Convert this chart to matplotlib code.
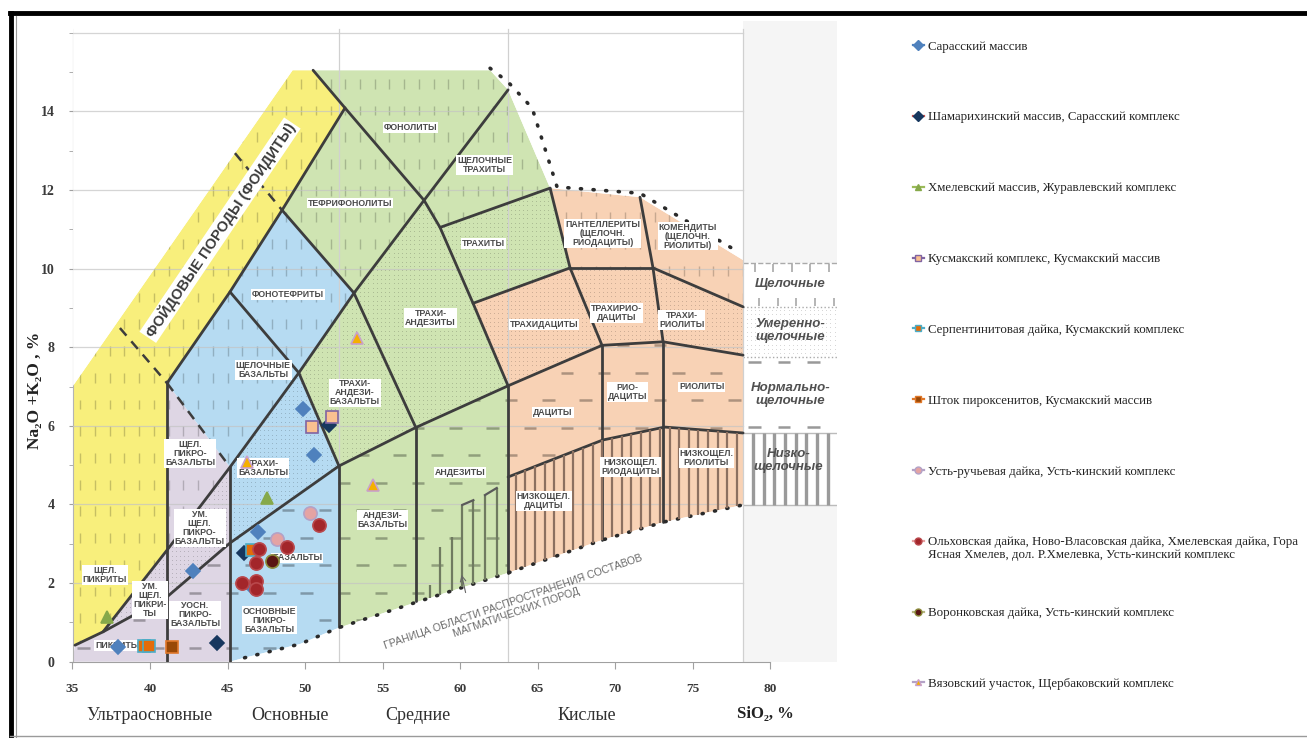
import numpy as np
import matplotlib
matplotlib.use('Agg')
import matplotlib.pyplot as plt
from matplotlib.patches import Polygon, Rectangle
from matplotlib.collections import LineCollection
from matplotlib.lines import Line2D

# ---- TAS diagram geometry (SiO2 %, Na2O+K2O %) ----
yellow_x = [35, 35, 49.2, 50.52, 52.58, 48.52, 45.16, 41.10, 41.10, 36.97, 35.16]
yellow_y = [0.42, 7.0, 15.05, 15.05, 14.09, 11.49, 9.41, 7.09, 2.84, 0.76, 0.42]
lilac_x = [35, 35.16, 36.97, 41.10, 41.10, 45.16, 45.16]
lilac_y = [0, 0.42, 0.76, 2.84, 7.09, 4.95, 0]
blue_x = [41.10, 45.16, 48.52, 53.16, 49.6, 52.19, 52.19, 49.68, 46.1, 45.16, 45.16]
blue_y = [7.09, 9.41, 11.49, 9.38, 7.35, 4.98, 0.86, 0.45, 0.1, 0.0, 4.95]
green_x = [50.52, 61.94, 63.10, 65.81, 67.10, 60.84, 63.10, 63.10, 57.23, 52.19, 52.19, 49.6, 53.16, 48.52, 52.58]
green_y = [15.05, 15.05, 14.55, 12.05, 10.02, 9.12, 7.02, 2.26, 1.52, 0.86, 4.98, 7.35, 9.38, 11.49, 14.09]
peach_x = [65.81, 71.61, 78.26, 78.26, 73.2, 69.2, 63.1, 63.10, 60.84, 67.10]
peach_y = [12.05, 11.82, 10.22, 3.99, 3.56, 3.1, 2.26, 7.02, 9.12, 10.02]

steep_x = [35.16, 36.97, 41.10, 45.16, 49.6, 53.16, 57.68, 63.10]
steep_y = [0.42, 0.76, 2.84, 4.95, 7.35, 9.38, 11.74, 14.55]
shallow_x = [36.97, 41.10, 45.16, 52.19, 57.10, 63.10, 69.16, 73.10, 78.26]
shallow_y = [0.76, 1.65, 3.02, 4.98, 5.95, 7.02, 8.05, 8.14, 7.80]
lowalk_x = [63.10, 69.2, 73.2, 78.26]
lowalk_y = [4.70, 5.64, 5.97, 5.82]
bottom_x = [46.1, 49.68, 52.13, 57.23, 63.1, 69.2, 73.2, 78.26]
bottom_y = [0.1, 0.45, 0.86, 1.52, 2.26, 3.1, 3.56, 3.99]
topdots_x = [61.94, 63.10, 64.65, 66.26, 71.61, 78.06]
topdots_y = [15.1, 14.75, 14.09, 12.08, 11.92, 10.4]

# other solid boundaries: (x list, y list)
edges = [
    ([52.58, 48.52, 45.16, 41.10], [14.09, 11.49, 9.41, 7.09]),
    ([50.52, 52.58, 57.68, 58.71, 60.84, 63.10], [15.05, 14.09, 11.74, 11.05, 9.12, 7.02]),
    ([48.52, 53.16, 57.16], [11.49, 9.38, 5.95]),
    ([45.16, 49.6], [9.41, 7.35]),
    ([49.6, 52.19], [7.35, 4.98]),
    ([58.71, 65.81], [11.05, 12.05]),
    ([65.81, 67.10], [12.05, 10.02]),
    ([60.84, 67.10], [9.12, 10.02]),
    ([67.10, 72.45], [10.02, 10.02]),
    ([71.61, 72.45], [11.82, 10.02]),
    ([72.45, 78.26], [10.02, 9.03]),
    ([67.10, 69.16], [10.02, 8.05]),
    ([72.45, 73.10], [10.02, 8.14]),
]
vert_x = [41.10, 45.16, 52.19, 57.16, 63.10, 69.16, 73.10]
vert_lo = [0, 0, 0.88, 1.54, 2.26, 3.1, 3.56]
vert_hi = [7.09, 4.95, 4.98, 5.95, 7.02, 8.05, 8.14]
dashed = [([41.10, 45.16], [7.09, 4.95]), ([38.06, 41.10], [8.49, 7.09]), ([45.48, 48.52], [12.94, 11.49])]
stair_x = [58.06, 58.71, 59.46, 60.15, 60.86, 61.61, 62.37]
stair_top = [1.95, 2.93, 3.18, 3.99, 4.11, 4.24, 4.42]

region_labels = [
    ("ФОНОЛИТЫ", 56.8, 13.6), ("ЩЕЛОЧНЫЕ\nТРАХИТЫ", 61.6, 12.63), ("ТЕФРИФОНОЛИТЫ", 52.9, 11.67),
    ("ТРАХИТЫ", 61.5, 10.65), ("ПАНТЕЛЛЕРИТЫ\n(ЩЕЛОЧН.\nРИОДАЦИТЫ)", 69.2, 10.9),
    ("КОМЕНДИТЫ\n(ЩЕЛОЧН.\nРИОЛИТЫ)", 74.7, 10.83), ("ФОНОТЕФРИТЫ", 48.9, 9.35),
    ("ТРАХИ-\nАНДЕЗИТЫ", 58.1, 8.74), ("ТРАХИДАЦИТЫ", 65.4, 8.58), ("ТРАХИРИО-\nДАЦИТЫ", 70.1, 8.87),
    ("ТРАХИ-\nРИОЛИТЫ", 74.3, 8.7), ("ЩЕЛОЧНЫЕ\nБАЗАЛЬТЫ", 47.3, 7.42),
    ("ТРАХИ-\nАНДЕЗИ-\nБАЗАЛЬТЫ", 53.2, 6.84), ("ДАЦИТЫ", 66.0, 6.35), ("РИО-\nДАЦИТЫ", 70.8, 6.86),
    ("РИОЛИТЫ", 75.6, 6.99), ("ЩЕЛ.\nПИКРО-\nБАЗАЛЬТЫ", 42.6, 5.3), ("ТРАХИ-\nБАЗАЛЬТЫ", 47.3, 4.93),
    ("АНДЕЗИТЫ", 60.0, 4.82), ("НИЗКОЩЕЛ.\nРИОДАЦИТЫ", 71.0, 4.95), ("НИЗКОЩЕЛ.\nРИОЛИТЫ", 75.9, 5.18),
    ("АНДЕЗИ-\nБАЗАЛЬТЫ", 55.0, 3.6), ("НИЗКОЩЕЛ.\nДАЦИТЫ", 65.4, 4.08), ("БАЗАЛЬТЫ", 49.5, 2.64),
    ("УМ.\nЩЕЛ.\nПИКРО-\nБАЗАЛЬТЫ", 43.2, 3.4), ("ЩЕЛ.\nПИКРИТЫ", 37.1, 2.2),
    ("УМ.\nЩЕЛ.\nПИКРИ-\nТЫ", 40.0, 1.57), ("УОСН.\nПИКРО-\nБАЗАЛЬТЫ", 42.9, 1.19),
    ("ОСНОВНЫЕ\nПИКРО-\nБАЗАЛЬТЫ", 47.7, 1.06), ("ПИКРИТЫ", 37.9, 0.42),
]

# ---- sample points ----
s1_x = [49.89, 50.58, 46.99, 42.79, 37.96, 46.56]
s1_y = [6.42, 5.26, 3.31, 2.32, 0.37, 1.91]
s2_x = [44.30, 46.05, 51.57]
s2_y = [0.47, 2.77, 6.02]
s3_x = [47.53, 37.20]
s3_y = [4.16, 1.15]
s4_x = [50.43, 51.72]
s4_y = [5.98, 6.22]
s5_x = [39.62, 39.95, 46.56]
s5_y = [0.41, 0.41, 2.83]
s6_x = [41.40]
s6_y = [0.37]
s7_x = [50.32, 48.17]
s7_y = [3.78, 3.11]
s8_x = [50.93, 48.82, 47.05, 46.84, 45.92, 46.84, 46.84]
s8_y = [3.48, 2.91, 2.88, 2.52, 2.01, 2.06, 1.84]
s9_x = [47.89]
s9_y = [2.55]
s10_x = [46.24, 53.34, 54.41]
s10_y = [5.09, 8.23, 4.50]

names = [
    "Сарасский массив",
    "Шамарихинский массив, Сарасский комплекс",
    "Хмелевский массив, Журавлевский комплекс",
    "Кусмакский комплекс, Кусмакский массив",
    "Серпентинитовая дайка, Кусмакский комплекс",
    "Шток пироксенитов, Кусмакский массив",
    "Усть-ручьевая дайка, Усть-кинский комплекс",
    "Ольховская дайка, Ново-Власовская дайка, Хмелевская дайка, Гора",
    "Воронковская дайка, Усть-кинский комплекс",
    "Вязовский участок, Щербаковский комплекс",
]
name8_cont = "Ясная Хмелев, дол. Р.Хмелевка, Усть-кинский комплекс"
series = [
    (s1_x, s1_y, 'D', '#4f81bd', '#4f81bd', 7, '#4f81bd'),
    (s2_x, s2_y, 'D', '#17375e', '#17375e', 7, '#c0504d'),
    (s3_x, s3_y, '^', '#86a94a', '#86a94a', 9, '#9bbb59'),
    (s4_x, s4_y, 's', '#fac090', '#8064a2', 8.5, '#8064a2'),
    (s5_x, s5_y, 's', '#e36c09', '#4bacc6', 8.5, '#4bacc6'),
    (s6_x, s6_y, 's', '#984807', '#e0782a', 9, '#e0782a'),
    (s7_x, s7_y, 'o', '#e4a3a3', '#b3a2c7', 9.5, '#b3a2c7'),
    (s8_x, s8_y, 'o', '#a3262a', '#b9484c', 9.5, '#e6a0a0'),
    (s9_x, s9_y, 'o', '#5a1614', '#8c8c3c', 9.5, '#b5b580'),
    (s10_x, s10_y, '^', '#f5b000', '#c9a0c9', 9, '#b3a2c7'),
]

W, H = 1307, 738
fig = plt.figure(figsize=(W / 100, H / 100), dpi=100)
ax = fig.add_axes([72.5 / W, 76.3 / H, 764.5 / W, 640.6 / H])
ax.set_xlim(35, 84.32)
ax.set_ylim(0, 16.3)
ax.set_facecolor('white')


def fill(xs, ys, color):
    ax.add_patch(Polygon(np.column_stack([xs, ys]), closed=True, fc=color, ec='none', zorder=1))


fill(yellow_x, yellow_y, '#f8ef7c')
fill(lilac_x, lilac_y, '#ded6e4')
fill(blue_x, blue_y, '#b6dbf2')
fill(green_x, green_y, '#cfe4b2')
fill(peach_x, peach_y, '#f8d2b5')


def clip_poly(pts):
    p = Polygon(pts, closed=True, fc='none', ec='none')
    ax.add_patch(p)
    return p


# textures for the alkalinity series
alk_lower = list(zip(steep_x, steep_y))[:7] + [(58.71, 11.05), (65.81, 12.05), (67.10, 10.02), (72.45, 10.02), (78.26, 9.03)]
zone_alk = [(35, 0.42)] + alk_lower + [(78.26, 16.3), (35, 16.3)]
zone_mod = alk_lower[1:] + list(zip(shallow_x, shallow_y))[::-1]
zone_norm = [(35, 0), (35, 0.42)] + list(zip(shallow_x, shallow_y)) + list(zip(lowalk_x, lowalk_y))[::-1] + [(63.10, 0)]

pc = clip_poly(zone_alk)
segs = [[(x, y), (x, y + 0.25)] for x in np.arange(35.5, 78.3, 0.95) for y in np.arange(0.3, 15.2, 0.68)]
lc = LineCollection(segs, colors=(0, 0, 0, 0.2), linewidths=1.0, zorder=2)
lc.set_clip_path(pc)
ax.add_collection(lc)

pc = clip_poly(zone_mod)
gx, gy = np.meshgrid(np.arange(36, 78.3, 0.27), np.arange(0.5, 12.5, 0.11))
sc = ax.scatter(gx.ravel(), gy.ravel(), s=0.6, c=[(0, 0, 0, 0.2)], lw=0, zorder=2)
sc.set_clip_path(pc)

pc = clip_poly(zone_norm)
segs = []
for i, y in enumerate(np.arange(0.35, 8.5, 0.7)):
    off = 1.2 if i % 2 else 0
    segs += [[(x, y), (x + 0.8, y)] for x in np.arange(35.3 + off, 78.3, 2.4)]
lc = LineCollection(segs, colors=(0, 0, 0, 0.3), linewidths=1.8, zorder=2)
lc.set_clip_path(pc)
ax.add_collection(lc)

# white outside the field
top_mask = [(35, 7.0), (49.2, 15.05), (61.94, 15.05), (63.10, 14.55), (65.81, 12.05), (71.61, 11.82),
            (78.26, 10.22), (78.26, 16.3), (35, 16.3)]
ax.add_patch(Polygon(top_mask, closed=True, fc='white', ec='none', zorder=3))
bot_mask = [(45.16, 0)] + list(zip(bottom_x, bottom_y)) + [(78.26, 0)]
ax.add_patch(Polygon(bot_mask, closed=True, fc='white', ec='none', zorder=3))

# scanned grid
for y in range(2, 17, 2):
    ax.plot([35, 78.26], [y, y], color='#c4c4c4', lw=0.9, alpha=0.7, zorder=3.5)
for x in [35, 52.19, 63.10, 78.26]:
    ax.plot([x, x], [0, 16.1], color='#d0d0d0', lw=0.9, zorder=3.5)

# right-hand alkalinity panel
ax.add_patch(Rectangle((78.26, 0), 6.06, 16.3, fc='#f5f5f5', ec='none', zorder=1))
ax.add_patch(Rectangle((78.26, 3.99), 6.06, 6.16, fc='white', ec='none', zorder=1.1))
ax.plot([78.26, 84.3], [10.15, 10.15], color='#aaaaaa', lw=1, ls='--', zorder=2)
ax.plot([78.26, 84.3], [9.03, 9.03], color='#aaaaaa', lw=1, ls=':', zorder=2)
ax.plot([78.26, 84.3], [7.75, 7.75], color='#aaaaaa', lw=1, ls=':', zorder=2)
ax.plot([78.26, 84.3], [5.82, 5.82], color='#bbbbbb', lw=1, zorder=2)
ax.plot([78.26, 84.3], [3.99, 3.99], color='#bbbbbb', lw=1, zorder=2)
tick_x = np.arange(79.0, 84.2, 1.2)
ax.add_collection(LineCollection([[(x, 9.92), (x, 10.12)] for x in tick_x] + [[(x, 9.06), (x, 9.26)] for x in tick_x + 0.3],
                                 colors='#a8a8a8', linewidths=1.2, zorder=2))
gx, gy = np.meshgrid(np.arange(78.5, 84.2, 0.27), np.arange(7.85, 9.0, 0.11))
ax.scatter(gx.ravel(), gy.ravel(), s=0.6, c=[(0, 0, 0, 0.18)], lw=0, zorder=2)
ax.add_collection(LineCollection([[(x, 7.62), (x + 0.8, 7.62)] for x in np.arange(78.6, 84, 1.9)] +
                                 [[(x, 5.98), (x + 0.8, 5.98)] for x in np.arange(78.6, 84, 1.9)],
                                 colors='#999999', linewidths=1.8, zorder=2))
ax.add_collection(LineCollection([[(x, 3.99), (x, 5.82)] for x in np.arange(78.9, 84.3, 0.69)],
                                 colors='#9a9a9a', linewidths=2.4, zorder=2))
panel_font = dict(family='Liberation Sans', fontsize=9.5, fontweight='bold', fontstyle='italic',
                  color='#505050', ha='center', va='center', zorder=5, linespacing=1.1)
ax.text(81.3, 9.6, "Щелочные", **panel_font)
ax.text(81.3, 8.42, "Умеренно-\nщелочные", **panel_font)
ax.text(81.3, 6.8, "Нормально-\nщелочные", **panel_font)
ax.text(81.2, 5.12, "Низко-\nщелочные", **panel_font)

# boundaries
line_kw = dict(color='#3d3d3d', lw=2.0, zorder=4, solid_capstyle='round', solid_joinstyle='round')
ax.plot(steep_x, steep_y, **line_kw)
ax.plot(shallow_x, shallow_y, **line_kw)
ax.plot(lowalk_x, lowalk_y, **line_kw)
for xs, ys in edges:
    ax.plot(xs, ys, **line_kw)
for x, lo, hi in zip(vert_x, vert_lo, vert_hi):
    ax.plot([x, x], [lo, hi], **line_kw)
for xs, ys in dashed:
    ax.plot(xs, ys, color='#3d3d3d', lw=1.8, ls=(0, (4, 3)), zorder=4)
ax.plot(bottom_x, bottom_y, color='#2a2a2a', lw=2.6, ls=(0, (0.3, 3.2)), dash_capstyle='round', zorder=4)
ax.plot(topdots_x, topdots_y, color='#2a2a2a', lw=2.6, ls=(0, (0.3, 3.2)), dash_capstyle='round', zorder=4)

# hatching of the low-alkaline field
hx = np.arange(63.6, 78.2, 0.62)
ax.add_collection(LineCollection([[(x, np.interp(x, bottom_x, bottom_y)), (x, np.interp(x, lowalk_x, lowalk_y))] for x in hx],
                                 colors='#8c7060', linewidths=1.6, zorder=4))
ax.add_collection(LineCollection([[(x, np.interp(x, bottom_x, bottom_y)), (x, t)] for x, t in zip(stair_x, stair_top)],
                                 colors='#6f7a60', linewidths=1.6, zorder=4))
ax.plot(stair_x[3:5], stair_top[3:5], color='#5a5a5a', lw=1.6, zorder=4)
ax.plot(stair_x[5:7], stair_top[5:7], color='#5a5a5a', lw=1.6, zorder=4)

for txt, x, y in region_labels:
    ax.text(x, y, txt, fontsize=6.3, fontweight='bold', family='Liberation Sans', color='#4a4a4a',
            ha='center', va='center', linespacing=1.0, zorder=5,
            bbox=dict(boxstyle='square,pad=0.1', fc='white', ec='none'))
ax.text(44.52, 10.98, "ФОЙДОВЫЕ ПОРОДЫ (ФОИДИТЫ)", rotation=56, fontsize=10.5, fontweight='bold',
        family='Liberation Sans', color='#3a3a3a', ha='center', va='center', zorder=5,
        bbox=dict(boxstyle='square,pad=0.12', fc='white', ec='none'))
ax.text(63.55, 1.39, "ГРАНИЦА ОБЛАСТИ РАСПРОСТРАНЕНИЯ СОСТАВОВ\nМАГМАТИЧЕСКИХ ПОРОД", rotation=19,
        rotation_mode='anchor', fontsize=7.6, family='Liberation Sans', color='#6a6a6a',
        ha='center', va='center', linespacing=1.1, zorder=5)
ax.annotate('', xy=(60.06, 2.28), xytext=(60.4, 1.69),
            arrowprops=dict(arrowstyle='->', color='#666666', lw=0.8), zorder=5)

# data series
handles = []
for (xs, ys, m, fc, ec, ms, lc_), name in zip(series, names):
    ax.plot(xs, ys, ls='none', marker=m, mfc=fc, mec=ec, ms=ms, mew=1.2, zorder=6)
    handles.append(Line2D([], [], color=lc_, lw=1.6, marker=m, mfc=fc, mec=ec, ms=5, mew=1))

# axes styling
for side in ['top', 'right']:
    ax.spines[side].set_visible(False)
ax.spines['bottom'].set_bounds(35, 80)
ax.spines['left'].set_bounds(0, 16)
ax.spines['bottom'].set_color('#a0a0a0')
ax.spines['left'].set_color('#b0b0b0')
ax.set_xticks(range(35, 81, 5))
ax.set_yticks(range(0, 15, 2))
ax.set_yticks(range(0, 17), minor=True)
ax.tick_params(axis='x', colors='#a0a0a0', length=5, pad=10, labelcolor='#3a3a3a', labelsize=9.5)
ax.tick_params(axis='y', which='both', colors='#a0a0a0', length=3, pad=10, labelcolor='#3a3a3a', labelsize=10)
for lab in ax.get_xticklabels() + ax.get_yticklabels():
    lab.set_family('Liberation Serif')
    lab.set_fontweight('bold')

ax.text(32.6, 6.9, "Na₂O +K₂O , %", rotation=90, fontsize=12.5, fontweight='bold', family='Liberation Serif',
        color='#222222', ha='center', va='center', clip_on=False)
ax.text(79.7, -1.33, "SiO₂, %", fontsize=12, fontweight='bold', family='Liberation Serif',
        color='#222222', ha='center', va='center', clip_on=False)
for txt, x in [("Ультраосновные", 40.0), ("Основные", 49.0), ("Средние", 57.3), ("Кислые", 68.2)]:
    ax.text(x, -1.36, txt, fontsize=13, family='Liberation Serif', color='#303030',
            ha='center', va='center', clip_on=False)

leg_font = {'family': 'Liberation Serif', 'size': 9.3}
leg = fig.legend(handles, names, loc='upper left', bbox_to_anchor=(901 / W, 1 - 29 / H), frameon=False,
                 prop=leg_font, labelspacing=4.55, handlelength=0.9, handletextpad=0.3, labelcolor='#222222')

# second line of the long 8th legend entry, hung under its first line
fig.canvas.draw()
bb = leg.get_texts()[7].get_window_extent()
fig.text(bb.x0 / W, (bb.y0 - 1) / H, name8_cont, va='top', ha='left', color='#222222',
         family='Liberation Serif', fontsize=9.3)

# frame of the original picture
fig.add_artist(Line2D([10 / W, 1], [1 - 13 / H, 1 - 13 / H], color='black', lw=3.5))
fig.add_artist(Line2D([11 / W, 11 / W], [0, 1 - 13 / H], color='black', lw=3.5))
fig.add_artist(Line2D([16 / W, 16 / W], [0, 1 - 16 / H], color='#9a9a9a', lw=0.8))
fig.add_artist(Line2D([10 / W, 1], [2 / H, 2 / H], color='#9a9a9a', lw=1.0))

fig.savefig('out.png', dpi=100)
